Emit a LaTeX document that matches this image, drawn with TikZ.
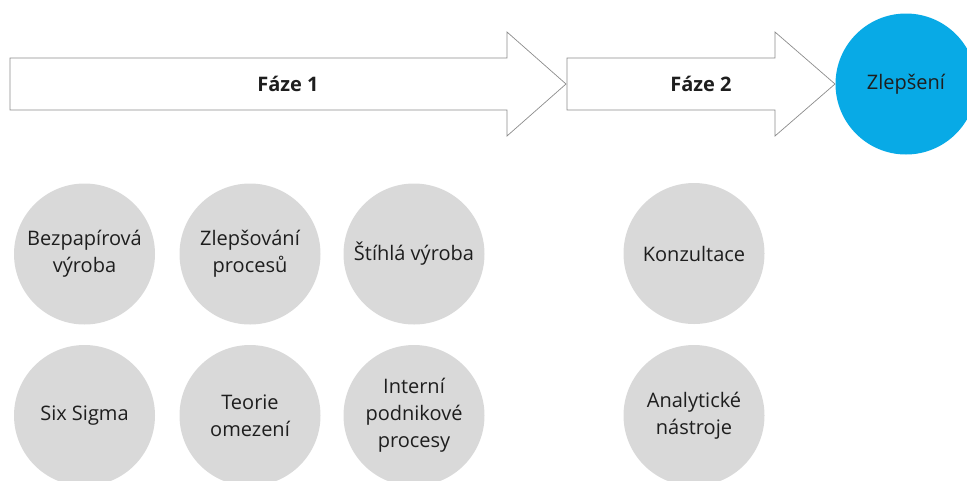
\documentclass[tikz,border=0pt]{standalone}
\usepackage{fontspec}
\setmainfont{Open Sans}
\usepackage{tikz}
\usepackage{color}

\definecolor{kruhseda}{RGB}{217,217,217}
\definecolor{kruhmodra}{RGB}{8,170,230}
\definecolor{obrys}{RGB}{140,140,140}
\definecolor{pismo}{RGB}{30,30,30}

\begin{document}
\begin{tikzpicture}[x=1pt,y=-1pt,
  faze/.style={draw=obrys,line width=0.7pt,fill=white,line join=miter},
  bublina/.style={circle,fill=kruhseda,minimum size=141pt,inner sep=0pt,align=center,
    text=pismo,font=\fontsize{20}{27}\selectfont},
  popis/.style={text=pismo,font=\fontsize{20}{24}\selectfont\bfseries}]
\useasboundingbox (0,0) rectangle (967,480);
\clip (0,0) rectangle (967,480);

% Fáze
\draw[faze] (10,58) -- (507,58) -- (507,32) -- (566,84) -- (507,136) -- (507,110) -- (10,110) -- cycle;
\node[popis] (faze1) at (288,84) {Fáze 1};

\draw[faze] (567,58) -- (775,58) -- (775,32) -- (835,84) -- (775,136) -- (775,110) -- (567,110) -- cycle;
\node[popis] (faze2) at (701,84) {Fáze 2};

\node[bublina,fill=kruhmodra] (zlepseni) at (906,84) {Zlepšení};

% Fáze 1 - metody
\node[bublina] (bezpapir) at (84.5,254) {Bezpapírová\\výroba};
\node[bublina] (procesy) at (250,254) {Zlepšování\\procesů};
\node[bublina] (lean) at (414,254) {Štíhlá výroba};
\node[bublina] (sigma) at (84.5,415.5) {Six Sigma};
\node[bublina] (omezeni) at (250,415.5) {Teorie\\omezení};
\node[bublina] (interni) at (414,415.5) {Interní\\podnikové\\procesy};

% Fáze 2 - metody
\node[bublina] (konzultace) at (694,253.5) {Konzultace};
\node[bublina] (analytika) at (694,415.5) {Analytické\\nástroje};

\end{tikzpicture}
\end{document}
